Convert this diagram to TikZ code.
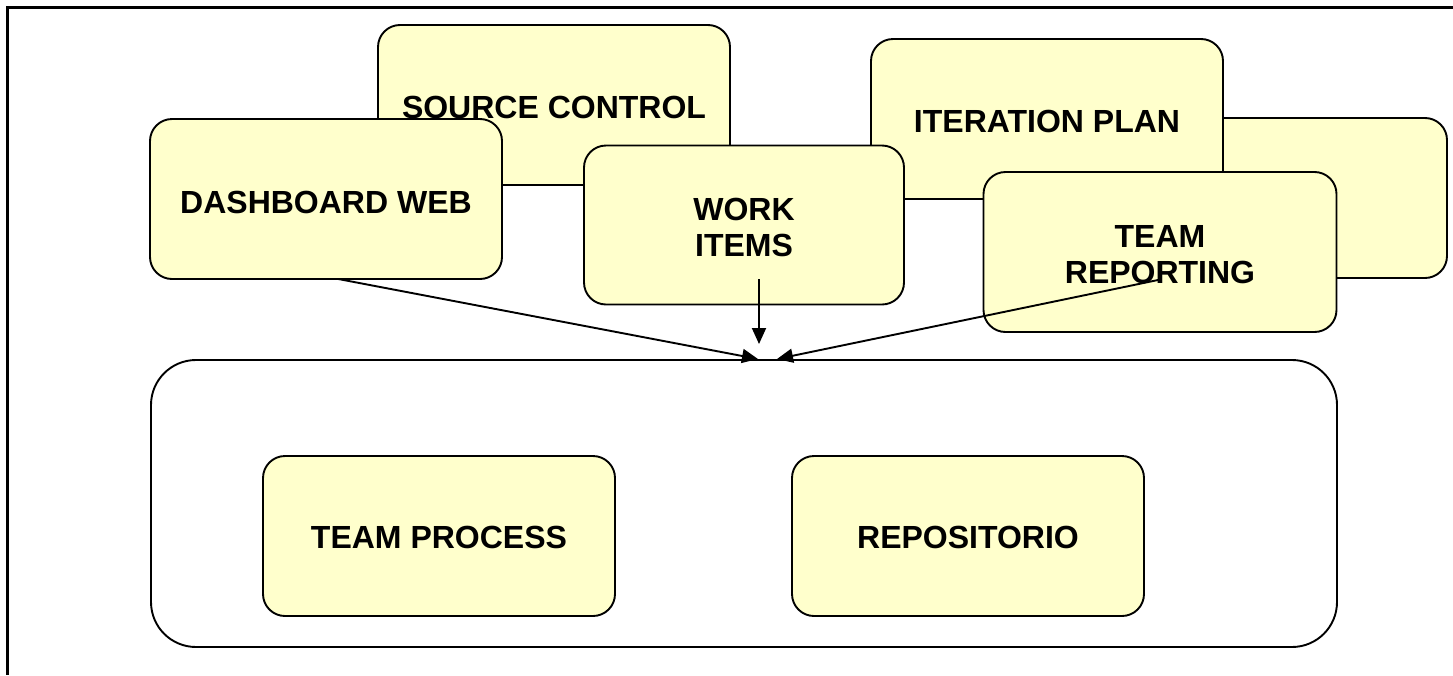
\documentclass[tikz,border=0pt]{standalone}
\usepackage{fontspec}
\setmainfont{Liberation Sans}
\usetikzlibrary{arrows.meta}
\definecolor{boxfill}{RGB}{255,255,204}
\tikzset{
  ybox/.style={draw=black, line width=1.9pt, fill=boxfill, rounded corners=22pt,
    minimum width=352pt, minimum height=160pt, inner sep=0pt, align=center,
    font=\fontsize{32}{36}\selectfont\bfseries},
  lbl/.style={inner sep=0pt, align=center, font=\fontsize{32}{36}\selectfont\bfseries},
  conn/.style={line width=1.9pt, -{Triangle[length=16pt,width=14pt]}},
  frameline/.style={line width=3pt},
}
\begin{document}
\begin{tikzpicture}[x=1pt,y=-1pt]
\useasboundingbox (0,0) rectangle (1453,675);
\fill[white] (0,0) rectangle (1453,675);
\draw[frameline] (1453,7) -- (7,7) -- (7,675);
% container
\node[draw=black, line width=1.9pt, rounded corners=45pt, minimum width=1186pt, minimum height=287pt, inner sep=0pt] (cont) at (744,503.5) {};
\node[ybox] (proc) at (439,536) {};
\node[lbl] at (439,537) {TEAM PROCESS};
\node[ybox] (repo) at (968,536) {};
\node[lbl] at (968,537) {REPOSITORIO};
% upper boxes
\coordinate (tipL) at (758,359);
\coordinate (tipR) at (777,359);
\coordinate (tipM) at (759,344);
\node[ybox] (src) at (554,105) {};
\node[lbl] at (554,107) {SOURCE CONTROL};
\coordinate (dashS) at (333,278);
\draw[conn] (dashS) -- (tipL);
\node[ybox] (dash) at (326,199) {};
\node[lbl] at (326,202) {DASHBOARD WEB};
\node[ybox] (blank) at (1271,198) {};
\node[ybox] (iter) at (1047,119) {};
\node[lbl] at (1047,121) {ITERATION PLAN};
\node[ybox, minimum width=320pt, minimum height=159pt] (work) at (744,225) {};
\node[lbl] at (744,227) {WORK\\ITEMS};
\coordinate (workS) at (759,279);
\draw[conn] (workS) -- (tipM);
\node[ybox, minimum width=353pt] (rep) at (1160,252) {};
\node[lbl] at (1160,255) {TEAM\\REPORTING};
\coordinate (repS) at (1158,280);
\draw[conn] (repS) -- (tipR);
\end{tikzpicture}
\end{document}
